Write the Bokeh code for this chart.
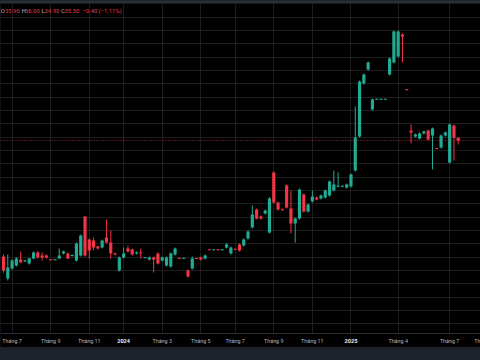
from bokeh.plotting import figure
from bokeh.models import (Range1d, FixedTicker, SingleIntervalTicker, Span, Label,
                          LabelSet, BoxAnnotation, ColumnDataSource)
from bokeh.core.properties import value
from bokeh.embed import file_html
from bokeh.resources import INLINE

# weekly bars (bar index as x, like TradingView's index spacing)
slot = list(range(107))
open_ = [18.1, 14.8, 16.3, 16.75, 17.65, 17.35, 17.05, 17.8, 18.7, 18.25,
         18.25, 17.65, 17.6, 17.8, 18.55, 18.55, 18.2, 17.5, 18.25, 24.1,
         20.65, 20.5, 19.6, 19.45, 20.95, 20.2, 18.55, 16.0, 17.95, 19.3,
         19.15, 18.55, 18.7, 17.9, 17.65, 17.95, 18.55, 17.5, 16.75, 16.6,
         18.4, 17.85, 17.8, 16.0, 16.3, 17.85, 17.95, 17.8, 19.15, 19.1,
         19.15, 19.1, 19.45, 18.55, 19.2, 19.9, 19.75, 20.8, 22.45, 25.15,
         24.1, 24.55, 21.7, 30.7, 26.2, 25.15, 28.75, 25.3, 23.05, 23.8,
         27.4, 24.85, 26.35, 26.95, 26.8, 26.95, 27.25, 28.0, 28.6, 28.6,
         28.45, 28.6, 31.0, 36.1, 44.05, 46.15, 40.15, 41.65, 41.65, 41.65,
         45.4, 47.2, 48.1, 51.4, 43.15, 37.0, 36.1, 35.8, 36.55, 37.0,
         36.25, 34.35, 34.45, 36.25, 32.2, 37.75, 35.9]
high = [18.4, 18.4, 17.7, 18.0, 18.85, 17.6, 17.95, 18.85, 18.9, 18.7,
        18.4, 17.7, 17.7, 19.3, 19.0, 18.7, 18.4, 20.2, 21.4, 24.2,
        20.8, 20.95, 19.75, 20.65, 23.65, 22.0, 18.7, 18.1, 19.45, 19.75,
        19.3, 18.85, 19.3, 18.0, 18.1, 18.1, 18.7, 18.1, 18.1, 18.7,
        19.45, 17.9, 17.9, 16.15, 18.1, 17.9, 18.1, 18.4, 19.2, 19.2,
        19.2, 19.2, 20.1, 19.6, 19.25, 20.05, 20.8, 22.0, 25.75, 25.3,
        24.25, 25.15, 27.0, 30.85, 26.35, 25.3, 28.9, 28.0, 23.95, 28.3,
        27.55, 26.05, 28.0, 27.1, 27.4, 28.15, 29.5, 31.0, 30.7, 28.75,
        29.05, 30.55, 40.6, 44.5, 45.55, 47.35, 41.8, 41.75, 41.75, 41.75,
        47.95, 52.0, 52.0, 51.55, 43.2, 37.9, 36.55, 36.7, 37.0, 37.15,
        37.45, 34.4, 36.4, 36.85, 38.05, 37.9, 36.0]
low = [15.7, 14.5, 16.1, 16.6, 17.1, 17.3, 16.9, 17.7, 17.8, 17.5,
       17.8, 17.55, 17.55, 17.7, 18.4, 17.7, 18.1, 17.35, 18.1, 18.1,
       17.8, 19.0, 19.15, 19.3, 20.05, 17.8, 18.25, 15.85, 17.8, 18.7,
       18.25, 18.4, 17.8, 17.85, 17.5, 15.7, 16.9, 17.35, 16.6, 16.45,
       18.25, 17.75, 17.75, 14.95, 16.15, 17.7, 17.5, 17.65, 19.05, 19.05,
       19.05, 19.05, 19.3, 18.4, 19.1, 18.85, 19.6, 20.65, 22.3, 23.65,
       23.65, 24.4, 21.55, 26.05, 25.0, 25.0, 25.3, 21.55, 20.2, 23.65,
       24.7, 24.7, 26.2, 26.5, 26.65, 26.8, 27.1, 27.85, 28.5, 28.5,
       28.3, 28.45, 30.85, 35.95, 43.9, 46.0, 40.0, 41.6, 41.6, 41.6,
       45.25, 47.05, 47.95, 47.2, 43.05, 35.05, 35.95, 35.65, 36.4, 35.5,
       31.15, 34.2, 34.3, 36.1, 32.05, 32.5, 34.9]
close = [16.0, 16.45, 17.5, 17.8, 17.2, 17.5, 17.8, 18.7, 17.95, 17.95,
         17.95, 17.6, 17.65, 18.25, 18.85, 17.8, 18.3, 20.05, 21.25, 18.25,
         19.0, 19.45, 19.3, 20.5, 20.2, 18.55, 18.4, 17.95, 18.55, 18.85,
         18.4, 18.7, 18.55, 17.95, 17.95, 17.65, 17.05, 17.95, 17.95, 18.55,
         19.3, 17.8, 17.85, 15.1, 17.8, 17.75, 17.65, 18.25, 19.1, 19.15,
         19.1, 19.15, 19.9, 19.45, 19.15, 19.0, 20.65, 21.85, 24.4, 23.8,
         23.8, 25.0, 26.8, 26.2, 25.15, 25.1, 25.45, 23.05, 23.8, 28.15,
         24.85, 25.9, 27.1, 26.65, 27.25, 28.0, 29.35, 28.9, 28.65, 28.65,
         28.9, 30.4, 35.95, 44.35, 45.4, 47.2, 41.65, 41.7, 41.7, 41.7,
         47.8, 51.85, 51.85, 51.1, 43.1, 36.7, 36.4, 36.55, 36.85, 35.65,
         37.3, 34.25, 36.25, 36.7, 37.9, 35.9, 35.5]

tick_slots = [2, 11, 20, 28, 37, 46, 54, 63, 72, 81, 92, 104, 112]
tick_labels = ["Tháng 7", "Tháng 9", "Tháng 11", "2024", "Tháng 3", "Tháng 5",
               "Tháng 7", "Tháng 9", "Tháng 11", "2025", "Tháng 4", "Tháng 7", "Tháng 9"]
year_labels = ["2024", "2025"]

legend_parts = ["O", "35.90", "H", "36.00", "L", "34.90", "C", "35.50", "−0.40", "(−1.11%)"]

UP = "#22ab94"
DOWN = "#f23645"
LABEL_GRAY = "#b2b5be"
GRID = "#1d1d1d"
SEP = "#2a2e39"
BAND = "#1e222d"

# layout of the price pane / time-axis strip (price units)
Y_MIN, Y_MAX = 4.45, 56.05       # visible price span of the whole frame
AXIS_Y = 6.55                    # separator between price pane and time strip
X_MIN, X_MAX = -0.70, 111.19

colors = [UP if c >= o else DOWN for o, c in zip(open_, close)]
top, bottom = [], []
for o, c in zip(open_, close):
    t, b = max(o, c), min(o, c)
    if t - b < 0.16:
        m = (t + b) / 2
        t, b = m + 0.08, m - 0.08
    top.append(t)
    bottom.append(b)

src = ColumnDataSource(dict(slot=slot, open=open_, high=high, low=low, close=close,
                            top=top, bottom=bottom, color=colors))

p = figure(width=480, height=347, output_backend="svg", toolbar_location=None,
           x_range=Range1d(X_MIN, X_MAX), y_range=Range1d(Y_MIN, Y_MAX),
           y_axis_location=None, x_axis_location=None,
           min_border_left=0, min_border_right=0, min_border_top=3, min_border_bottom=0,
           background_fill_color="#000000", border_fill_color=SEP,
           outline_line_color=None)

p.segment(x0="slot", y0="high", x1="slot", y1="low", line_color="color",
          line_width=1, source=src)
p.vbar(x="slot", top="top", bottom="bottom", width=0.74, fill_color="color",
       line_color=None, source=src)

# last price line
p.add_layout(Span(location=close[-1], dimension="width", line_color=DOWN,
                  line_dash="1 2", line_width=1, line_alpha=0.75))

xt = FixedTicker(ticks=tick_slots)
p.xgrid.ticker = xt
p.xgrid.grid_line_color = GRID
p.ygrid.ticker = SingleIntervalTicker(interval=2)
p.ygrid.grid_line_color = GRID

# time-axis strip
p.add_layout(BoxAnnotation(bottom=Y_MIN, top=AXIS_Y, fill_color="#000000",
                           fill_alpha=1.0, line_color=None))
p.add_layout(Span(location=AXIS_Y, dimension="width", line_color=SEP, line_width=1))

label_y = (Y_MIN + AXIS_Y) / 2
month_src = ColumnDataSource(dict(
    x=[k for k, lab in zip(tick_slots, tick_labels) if lab not in year_labels],
    y=[label_y] * sum(1 for lab in tick_labels if lab not in year_labels),
    text=[lab for lab in tick_labels if lab not in year_labels]))
year_src = ColumnDataSource(dict(
    x=[k for k, lab in zip(tick_slots, tick_labels) if lab in year_labels],
    y=[label_y] * len(year_labels),
    text=[lab for lab in tick_labels if lab in year_labels]))

p.add_layout(LabelSet(x="x", y="y", text="text", source=month_src,
                      text_align="center", text_baseline="middle",
                      text_font=value("Roboto"), text_font_size="5.4px",
                      text_color=LABEL_GRAY))
p.add_layout(LabelSet(x="x", y="y", text="text", source=year_src,
                      text_align="center", text_baseline="middle",
                      text_font=value("Roboto"), text_font_size="5.6px",
                      text_font_style="bold", text_color="#ececec"))

legend_x = [0.2, 4.4, 21.2, 24.4, 41.0, 44.0, 60.6, 64.0, 82.0, 98.0]
for txt, lx in zip(legend_parts, legend_x):
    is_key = txt in ("O", "H", "L", "C")
    p.add_layout(Label(x=lx, y=336.5, x_units="screen", y_units="screen", text=txt,
                       text_align="left", text_baseline="middle",
                       text_font="Roboto", text_font_size="5.9px",
                       text_color=LABEL_GRAY if is_key else DOWN))

html = file_html(p, INLINE)
html = html.replace("<head>", "<head><style>html,body{background:%s;}</style>" % BAND, 1)
open("out.html", "w").write(html)
